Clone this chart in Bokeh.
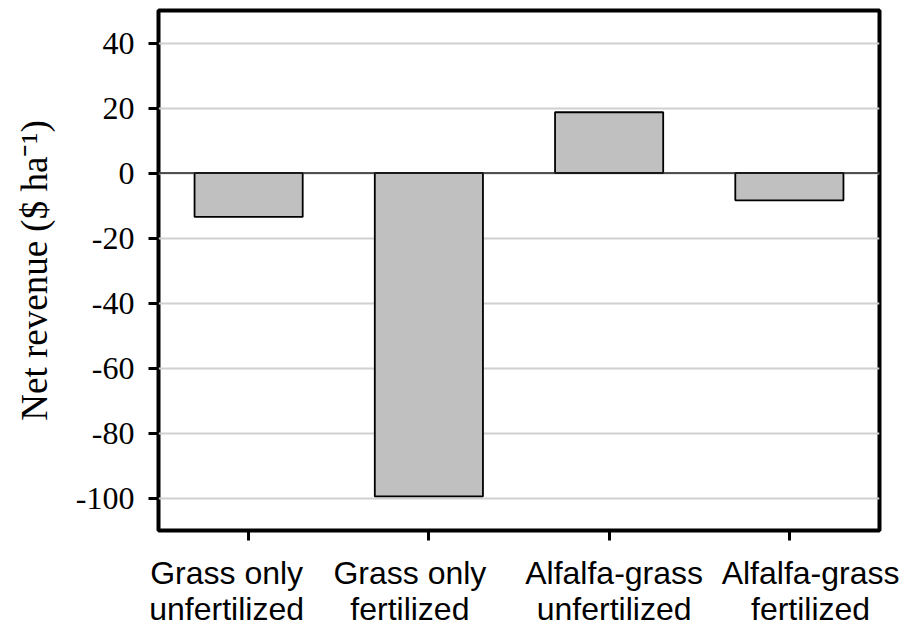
from bokeh.plotting import figure
from bokeh.models import Span, FixedTicker, ColumnDataSource, LinearAxis
from bokeh.embed import file_html
from bokeh.resources import INLINE

# ---- data ----
categories = [
    "Grass only\nunfertilized",
    "Grass only\nfertilized",
    "Alfalfa-grass\nunfertilized",
    "Alfalfa-grass\nfertilized",
]
net_revenue = [-13.5, -99.5, 18.7, -8.4]
y_ticks = [-100, -80, -60, -40, -20, 0, 20, 40]
y_tick_labels = ["-100", "-80", "-60", "-40", "-20", "0", "20", "40"]
y_label = "Net revenue ($ ha\u207b\u00b9)"

# layout-only: horizontal shift of each category label (px) as in the reference
label_shift = [-22, -19, 5, 30]

FRAME_W = 721
n = len(categories)
x_pos = [i + 0.5 for i in range(n)]          # slot centres of the categories
source = ColumnDataSource(data=dict(x=x_pos, cat=categories, value=net_revenue))

p = figure(
    x_range=(0, n),
    y_range=(-110, 50),
    frame_width=FRAME_W,
    frame_height=520,
    min_border_left=158,
    min_border_top=10,
    min_border_right=20,
    min_border_bottom=5,
    output_backend="svg",
    toolbar_location=None,
    background_fill_color="white",
    border_fill_color="white",
)

p.vbar(x="x", top="value", bottom=0, width=0.6, source=source,
       fill_color="#c0c0c0", line_color="black", line_width=1.8)

p.add_layout(Span(location=0, dimension="width", line_color="#222222", line_width=1.3))

# frame
p.outline_line_color = "black"
p.outline_line_width = 4
p.outline_line_alpha = 1.0

# grid
p.xgrid.grid_line_color = None
p.ygrid.grid_line_color = "#d0d0d0"
p.ygrid.grid_line_width = 2

# y axis
p.yaxis.ticker = FixedTicker(ticks=y_ticks)
p.yaxis.major_label_overrides = {t: s for t, s in zip(y_ticks, y_tick_labels)}
p.yaxis.axis_line_color = None
p.yaxis.minor_tick_line_color = None
p.yaxis.major_tick_in = 0
p.yaxis.major_tick_out = 10
p.yaxis.major_tick_line_width = 3
p.yaxis.major_tick_line_color = "black"
p.yaxis.major_label_text_font = "Liberation Serif"
p.yaxis.major_label_text_font_size = "32px"
p.yaxis.major_label_text_color = "black"
p.yaxis.major_label_standoff = 14
p.yaxis.axis_label = y_label
p.yaxis.axis_label_text_font = "Liberation Serif"
p.yaxis.axis_label_text_font_size = "37px"
p.yaxis.axis_label_text_font_style = "normal"
p.yaxis.axis_label_text_color = "black"
p.yaxis.axis_label_standoff = 18

# x axis: tick marks at the category centres, no text
p.xaxis.ticker = FixedTicker(ticks=x_pos)
p.xaxis.major_label_overrides = {x: "" for x in x_pos}
p.xaxis.axis_line_color = None
p.xaxis.minor_tick_line_color = None
p.xaxis.major_tick_in = 0
p.xaxis.major_tick_out = 10
p.xaxis.major_tick_line_width = 3
p.xaxis.major_tick_line_color = "black"
p.xaxis.major_label_text_font_size = "1px"
p.xaxis.major_label_standoff = 0

# second axis below carrying the two-line category labels, shifted as in the reference
px_per_unit = FRAME_W / n
label_pos = [x + s / px_per_unit for x, s in zip(x_pos, label_shift)]
lab_axis = LinearAxis(ticker=FixedTicker(ticks=label_pos))
lab_axis.major_label_overrides = {pos: c for pos, c in zip(label_pos, categories)}
lab_axis.axis_line_color = None
lab_axis.major_tick_line_color = None
lab_axis.minor_tick_line_color = None
lab_axis.major_tick_in = 0
lab_axis.major_tick_out = 0
lab_axis.major_label_text_font = "Liberation Sans"
lab_axis.major_label_text_font_size = "32px"
lab_axis.major_label_text_line_height = 1.0
lab_axis.major_label_text_color = "black"
lab_axis.major_label_standoff = 14
p.add_layout(lab_axis, "below")

open("out.html", "w").write(file_html(p, INLINE))
